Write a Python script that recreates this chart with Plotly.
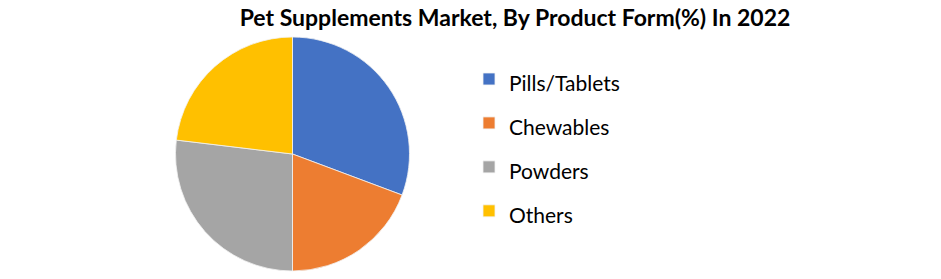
import plotly.graph_objects as go

labels = ["Pills/Tablets", "Chewables", "Powders", "Others"]
values = [30.7, 19.3, 26.9, 23.1]
colors = ["#4472C4", "#ED7D31", "#A5A5A5", "#FFC000"]
title_text = "Pet Supplements Market, By Product Form(%) In 2022"

W, H = 941, 279
cx, cy, r = 292.5, 154, 117

legend_labels = [f"<span style='font-size:21px'>{l}</span>" for l in labels]

fig = go.Figure(go.Pie(
    labels=legend_labels,
    values=values,
    marker=dict(colors=colors, line=dict(color="#F2F2F2", width=0.8)),
    sort=False,
    direction="clockwise",
    rotation=0,
    textinfo="none",
    hoverinfo="skip",
    domain=dict(x=[(cx - r) / W, (cx + r) / W], y=[(H - cy - r) / H, (H - cy + r) / H]),
))

fig.update_layout(
    width=W, height=H,
    margin=dict(l=0, r=0, t=0, b=0),
    paper_bgcolor="white",
    font=dict(family="Lato", color="black"),
    title=dict(text=f"<b>{title_text}</b>", x=515 / W, xanchor="center",
               y=1 - 18 / H, yanchor="middle", font=dict(size=23, family="Lato", color="black")),
    legend=dict(x=469 / W, xanchor="left", y=1 - 52 / H, yanchor="top",
                font=dict(size=31.5, family="Lato", color="black"),
                bgcolor="rgba(0,0,0,0)", itemclick=False),
    showlegend=True,
)

fig.write_html("out.html")
